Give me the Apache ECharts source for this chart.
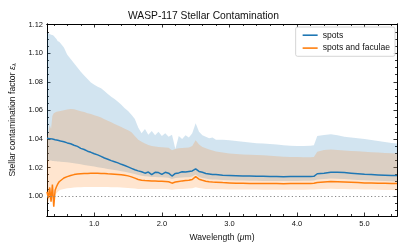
<!DOCTYPE html>
<html><head><meta charset="utf-8">
<script src="https://cdn.jsdelivr.net/npm/echarts@6/dist/echarts.min.js"></script>
<style>html,body{margin:0;padding:0;background:#fff}#c{width:407px;height:251px}</style>
</head><body><div id="c"></div>
<script>
// wavelength grid (micron)
const wavelength = [0.30,0.32,0.34,0.36,0.38,0.40,0.42,0.44,0.46,0.48,0.50,
0.55,0.60,0.65,0.70,0.75,0.80,0.85,0.90,0.95,1.00,1.05,1.10,1.15,1.20,1.25,1.30,1.35,1.40,1.45,1.50,1.55,1.60,1.65,1.70,1.75,1.80,1.85,1.90,1.95,2.00,2.05,2.10,2.15,2.20,2.25,2.30,2.35,2.40,2.45,2.50,2.55,2.60,2.65,2.70,2.75,2.80,
2.90,3.00,3.10,3.20,3.30,3.40,3.50,3.60,3.70,3.80,3.90,4.00,4.10,4.20,4.25,4.30,4.40,4.50,4.60,4.70,4.80,4.90,5.00,5.10,5.20,5.30,5.40,5.48];

// spots: median
const spots = [1.0405,1.0408,1.0402,1.0404,1.0399,1.0398,1.0394,1.0396,1.0390,1.0388,1.0385,
1.0380,1.0372,1.0366,1.0356,1.0348,1.0334,1.0326,1.0314,1.0306,1.0296,1.0288,1.0278,1.0266,1.0258,1.0248,1.0240,1.0232,1.0222,1.0214,1.0204,1.0194,1.0184,1.0176,1.0170,1.0160,1.0168,1.0150,1.0166,1.0164,1.0152,1.0166,1.0160,1.0140,1.0158,1.0162,1.0170,1.0168,1.0172,1.0176,1.0190,1.0172,1.0166,1.0158,1.0154,1.0150,1.0150,
1.0146,1.0144,1.0142,1.0140,1.0140,1.0138,1.0138,1.0136,1.0137,1.0135,1.0136,1.0136,1.0136,1.0137,1.0138,1.0156,1.0160,1.0166,1.0166,1.0164,1.0160,1.0156,1.0152,1.0150,1.0148,1.0146,1.0144,1.0143];
const spotsLow = [1.0250,1.0250,1.0248,1.0248,1.0246,1.0245,1.0244,1.0243,1.0242,1.0241,1.0240,
1.0238,1.0236,1.0233,1.0230,1.0226,1.0222,1.0218,1.0214,1.0210,1.0206,1.0202,1.0198,1.0194,1.0190,1.0186,1.0182,1.0178,1.0174,1.0170,1.0165,1.0160,1.0154,1.0148,1.0142,1.0138,1.0136,1.0134,1.0134,1.0132,1.0132,1.0130,1.0128,1.0120,1.0126,1.0128,1.0130,1.0131,1.0132,1.0136,1.0150,1.0134,1.0126,1.0122,1.0118,1.0116,1.0115,
1.0112,1.0110,1.0109,1.0108,1.0107,1.0107,1.0106,1.0106,1.0106,1.0105,1.0106,1.0106,1.0107,1.0107,1.0108,1.0116,1.0120,1.0122,1.0121,1.0119,1.0116,1.0113,1.0111,1.0109,1.0107,1.0105,1.0103,1.0100];
const spotsHigh = [1.1140,1.1142,1.1135,1.1130,1.1128,1.1122,1.1110,1.1100,1.1085,1.1080,1.1070,
1.1040,1.0990,1.0960,1.0930,1.0900,1.0870,1.0845,1.0820,1.0795,1.0780,1.0765,1.0755,1.0735,1.0715,1.0695,1.0680,1.0660,1.0640,1.0615,1.0595,1.0570,1.0540,1.0480,1.0440,1.0470,1.0430,1.0455,1.0425,1.0450,1.0420,1.0440,1.0415,1.0430,1.0330,1.0420,1.0400,1.0425,1.0410,1.0440,1.0510,1.0450,1.0425,1.0415,1.0405,1.0410,1.0395,
1.0395,1.0390,1.0385,1.0380,1.0375,1.0370,1.0368,1.0365,1.0360,1.0356,1.0352,1.0350,1.0350,1.0352,1.0355,1.0420,1.0428,1.0432,1.0425,1.0415,1.0410,1.0405,1.0400,1.0392,1.0385,1.0378,1.0372,1.0368];

// spots and faculae: median
const faculae = [1.0030,0.9985,1.0060,0.9960,1.0080,0.9925,1.0040,1.0065,1.0085,1.0100,1.0112,
1.0126,1.0136,1.0144,1.0150,1.0154,1.0156,1.0158,1.0158,1.0160,1.0160,1.0159,1.0158,1.0158,1.0156,1.0155,1.0153,1.0151,1.0149,1.0146,1.0141,1.0134,1.0125,1.0116,1.0110,1.0108,1.0107,1.0106,1.0105,1.0104,1.0104,1.0102,1.0100,1.0090,1.0098,1.0102,1.0106,1.0108,1.0110,1.0116,1.0136,1.0118,1.0110,1.0104,1.0100,1.0098,1.0097,
1.0094,1.0092,1.0090,1.0089,1.0088,1.0088,1.0087,1.0087,1.0087,1.0086,1.0087,1.0087,1.0088,1.0088,1.0089,1.0094,1.0098,1.0101,1.0100,1.0098,1.0096,1.0094,1.0092,1.0091,1.0090,1.0089,1.0088,1.0087];
const faculaeLow = [0.9950,0.9960,0.9975,0.9985,0.9995,1.0000,1.0010,1.0020,1.0030,1.0038,1.0044,
1.0050,1.0054,1.0057,1.0060,1.0061,1.0062,1.0063,1.0064,1.0064,1.0064,1.0064,1.0064,1.0063,1.0063,1.0062,1.0062,1.0061,1.0060,1.0058,1.0056,1.0054,1.0052,1.0050,1.0050,1.0050,1.0050,1.0050,1.0050,1.0050,1.0050,1.0049,1.0048,1.0044,1.0047,1.0049,1.0050,1.0051,1.0052,1.0054,1.0062,1.0056,1.0052,1.0050,1.0049,1.0048,1.0048,
1.0047,1.0046,1.0046,1.0045,1.0045,1.0045,1.0044,1.0044,1.0044,1.0044,1.0044,1.0044,1.0044,1.0045,1.0045,1.0048,1.0050,1.0051,1.0050,1.0049,1.0048,1.0047,1.0046,1.0045,1.0044,1.0043,1.0042,1.0041];
const faculaeHigh = [1.0420,1.0440,1.0500,1.0470,1.0560,1.0580,1.0585,1.0590,1.0592,1.0594,1.0596,
1.0600,1.0606,1.0610,1.0608,1.0600,1.0594,1.0588,1.0580,1.0574,1.0566,1.0558,1.0550,1.0538,1.0528,1.0516,1.0504,1.0494,1.0484,1.0472,1.0460,1.0446,1.0420,1.0395,1.0380,1.0368,1.0358,1.0350,1.0346,1.0344,1.0342,1.0340,1.0338,1.0320,1.0330,1.0334,1.0336,1.0338,1.0340,1.0350,1.0390,1.0360,1.0344,1.0334,1.0325,1.0318,1.0312,
1.0304,1.0298,1.0294,1.0291,1.0289,1.0287,1.0285,1.0282,1.0278,1.0275,1.0274,1.0273,1.0272,1.0272,1.0274,1.0310,1.0322,1.0326,1.0322,1.0318,1.0316,1.0313,1.0310,1.0307,1.0304,1.0302,1.0300,1.0298];

// tick positions
const xMajorTicks = [1,2,3,4,5];
const xMinorTicks = [0.4,0.6,0.8,1.2,1.4,1.6,1.8,2.2,2.4,2.6,2.8,3.2,3.4,3.6,3.8,4.2,4.4,4.6,4.8,5.2,5.4];
const yMajorTicks = [1.00,1.02,1.04,1.06,1.08,1.10,1.12];
const yMinorTicks = [0.99,0.995,1.005,1.01,1.015,1.025,1.03,1.035,1.045,1.05,1.055,1.065,1.07,1.075,1.085,1.09,1.095,1.105,1.11,1.115];
const xMin = 0.3, xMax = 5.48, yMin = 0.986, yMax = 1.1205;

const FONT = 'Liberation Sans';
const pair = (a) => wavelength.map((w, i) => [w, a[i]]);

function xAx(pos, ticks, len, showLabel, extra) {
  return Object.assign({
    type: 'value', min: xMin, max: xMax, position: pos,
    axisLine: {show: true, onZero: false, lineStyle: {color: '#000', width: 1}},
    axisTick: {show: true, inside: true, length: len, customValues: ticks, lineStyle: {color: '#000', width: 0.8}},
    axisLabel: {show: showLabel, customValues: ticks, formatter: v => v.toFixed(1), color: '#111', fontFamily: FONT, fontSize: 7.5, margin: 4},
    splitLine: {show: false}
  }, extra || {});
}
function yAx(pos, ticks, len, showLabel, extra) {
  return Object.assign({
    type: 'value', min: yMin, max: yMax, position: pos,
    axisLine: {show: true, onZero: false, lineStyle: {color: '#000', width: 1}},
    axisTick: {show: true, inside: true, length: len, customValues: ticks, lineStyle: {color: '#000', width: 0.8}},
    axisLabel: {show: showLabel, customValues: ticks, formatter: v => v.toFixed(2), color: '#111', fontFamily: FONT, fontSize: 7.5, margin: 4},
    splitLine: {show: false}
  }, extra || {});
}

// band drawn as one polygon, positioned through the axes' own scales
function band(name, lo, hi, color) {
  return {
    type: 'custom', name: name, silent: true, z: 1,
    data: [[wavelength[0], lo[0]]],
    renderItem: function (params, api) {
      const pts = [];
      for (let i = 0; i < wavelength.length; i++) pts.push(api.coord([wavelength[i], hi[i]]));
      for (let i = wavelength.length - 1; i >= 0; i--) pts.push(api.coord([wavelength[i], lo[i]]));
      return {type: 'polygon', shape: {points: pts}, style: {fill: color, opacity: 0.2, stroke: null}};
    },
    clip: true
  };
}

const chart = echarts.init(document.getElementById('c'), null, {renderer: 'canvas'});
chart.setOption({
  animation: false,
  backgroundColor: '#fff',
  title: {text: 'WASP-117 Stellar Contamination', left: 'center', top: 6,
    textStyle: {fontFamily: FONT, fontSize: 10.3, fontWeight: 'normal', color: '#111'}},
  grid: {left: 43, right: 10, top: 24, bottom: 35, containLabel: false},
  legend: {
    orient: 'vertical', right: 12, top: 27,
    data: [{name: 'spots', icon: 'rect'}, {name: 'spots and faculae', icon: 'rect'}],
    itemWidth: 15, itemHeight: 1.6, itemGap: 1.5,
    padding: [2.5, 5, 2.5, 7],
    borderColor: '#ccc', borderWidth: 0.8, borderRadius: 2,
    backgroundColor: 'rgba(255,255,255,0.85)',
    textStyle: {fontFamily: FONT, fontSize: 8.6, color: '#111', lineHeight: 11.4}
  },
  xAxis: [
    xAx('bottom', xMajorTicks, 3.5, true, {
      name: 'Wavelength ({mu|μ}m)', nameLocation: 'middle', nameGap: 14,
      nameTextStyle: {fontFamily: FONT, fontSize: 8.6, color: '#111', rich: {mu: {fontFamily: FONT, fontSize: 8.6, fontStyle: 'italic', color: '#111'}}}
    }),
    xAx('bottom', xMinorTicks, 2, false),
    xAx('top', xMajorTicks, 3.5, false),
    xAx('top', xMinorTicks, 2, false)
  ],
  yAxis: [
    yAx('left', yMajorTicks, 3.5, true, {
      name: 'Stellar contamination factor {e|ε}{s|λ}', nameLocation: 'middle', nameGap: 25, nameRotate: 90,
      nameTextStyle: {fontFamily: FONT, fontSize: 8.6, color: '#111', rich: {
        e: {fontFamily: FONT, fontSize: 8.6, fontStyle: 'italic', color: '#111'},
        s: {fontFamily: FONT, fontSize: 6, fontStyle: 'italic', color: '#111', verticalAlign: 'bottom', padding: [4, 0, 0, 0]}
      }}
    }),
    yAx('left', yMinorTicks, 2, false),
    yAx('right', yMajorTicks, 3.5, false),
    yAx('right', yMinorTicks, 2, false)
  ],
  series: [
    band('spotsBand', spotsLow, spotsHigh, '#1f77b4'),
    band('faculaeBand', faculaeLow, faculaeHigh, '#ff7f0e'),
    {name: 'spots', type: 'line', symbol: 'none', showSymbol: false, data: pair(spots), z: 3,
      lineStyle: {color: '#1f77b4', width: 1.5}, itemStyle: {color: '#1f77b4'},
      markLine: {silent: true, symbol: 'none', data: [{yAxis: 1.0}], label: {show: false},
        lineStyle: {color: '#888', type: [1.2, 2.4], width: 1.1}}},
    {name: 'spots and faculae', type: 'line', symbol: 'none', showSymbol: false, data: pair(faculae), z: 3,
      lineStyle: {color: '#ff7f0e', width: 1.5}, itemStyle: {color: '#ff7f0e'}}
  ]
});
</script>
</body></html>
